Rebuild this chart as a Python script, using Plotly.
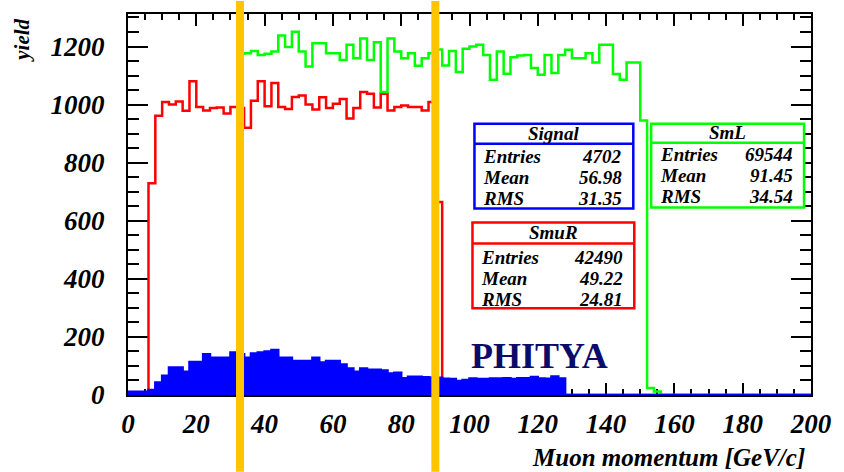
import plotly.graph_objects as go

# ---------------- data ----------------
BIN_WIDTH = 2
X_MIN, X_MAX = 0, 200
Y_MAX = 1312

red_start = 6
red_counts = [729, 962, 1009, 1000, 1011, 979, 1080, 992, 980, 988, 990, 969, 992,
              988, 920, 1013, 1080, 994, 1074, 992, 985, 1026, 1031, 1000, 983, 1025,
              988, 1003, 1019, 952, 988, 1043, 1037, 990, 1037, 980, 992, 997, 992,
              992, 980, 1009, 665]

green_start = 32
green_counts = [1175, 1177, 1185, 1171, 1175, 1183, 1238, 1198, 1251, 1183, 1131, 1211,
                1211, 1177, 1177, 1154, 1206, 1160, 1228, 1154, 1215, 1043, 1228, 1183,
                1160, 1177, 1134, 1160, 1177, 1190, 1135, 1185, 1112, 1192, 1200, 1206,
                1171, 1086, 1183, 1106, 1163, 1169, 1171, 1126, 1103, 1171, 1109, 1171,
                1189, 1160, 1160, 1177, 1145, 1206, 1206, 1105, 1086, 1145, 1145, 945,
                24, 12]

blue_start = 0
blue_counts = [11, 11, 11, 17, 43, 66, 95, 95, 80, 114, 114, 140, 128, 128, 128, 146,
               140, 128, 143, 146, 150, 155, 128, 128, 117, 117, 117, 128, 112, 117,
               117, 105, 91, 80, 91, 87, 87, 84, 74, 77, 58, 63, 63, 61, 60, 59, 56,
               55, 48, 52, 57, 55, 55, 57, 57, 58, 55, 58, 58, 62, 57, 56, 64, 57]

x_ticks = list(range(0, 201, 20))
y_ticks = list(range(0, 1201, 200))

stat_labels = ["Entries", "Mean", "RMS"]
signal_stats = ["4702", "56.98", "31.35"]
smur_stats = ["42490", "49.22", "24.81"]
sml_stats = ["69544", "91.45", "34.54"]

cut_positions = [32.8, 90.0]

# ---------------- layout helpers ----------------
W, H = 844, 472
ML, MR, MT, MB = 128, 28, 13, 77
PW = W - ML - MR
PH = H - MT - MB
FONT = "Liberation Serif, Times New Roman, serif"


def fx(px):
    return (px - ML) / PW


def fy(py):
    return (H - MB - py) / PH


nbins = (X_MAX - X_MIN) // BIN_WIDTH
edges = [X_MIN + i * BIN_WIDTH for i in range(nbins + 1)]


def full(start, counts):
    arr = [0] * nbins
    i0 = (start - X_MIN) // BIN_WIDTH
    for i, c in enumerate(counts):
        arr[i0 + i] = c
    return arr + [arr[-1]]


fig = go.Figure()
fig.add_trace(go.Scatter(x=edges, y=full(red_start, red_counts), mode="lines",
                         line=dict(color="#FF0000", width=2.5, shape="hv"),
                         name="SmuR", showlegend=False, hoverinfo="skip"))
fig.add_trace(go.Scatter(x=edges, y=full(green_start, green_counts), mode="lines",
                         line=dict(color="#00FF00", width=2.5, shape="hv"),
                         name="SmL", showlegend=False, hoverinfo="skip"))
fig.add_trace(go.Scatter(x=edges, y=full(blue_start, blue_counts), mode="lines",
                         line=dict(color="#0000FF", width=2.5, shape="hv"),
                         fill="tozeroy", fillcolor="#0000FF",
                         name="Signal", showlegend=False, hoverinfo="skip"))

tickfont = dict(family=FONT, size=27, color="black", weight="bold", style="italic")

fig.update_xaxes(range=[X_MIN, X_MAX], tickmode="array", tickvals=x_ticks,
                 ticktext=[str(v) for v in x_ticks],
                 ticks="inside", ticklen=12, tickwidth=2, tickcolor="black",
                 mirror="allticks", showline=True, linewidth=2, linecolor="black",
                 showgrid=False, zeroline=False, tickfont=tickfont,
                 ticklabelstandoff=4, layer="below traces",
                 minor=dict(dtick=5, tick0=0, ticks="inside", ticklen=6,
                            tickwidth=1.5, tickcolor="black", showgrid=False))
fig.update_yaxes(range=[0, Y_MAX], tickmode="array", tickvals=y_ticks,
                 ticktext=[str(v) for v in y_ticks],
                 ticks="inside", ticklen=20, tickwidth=2, tickcolor="black",
                 mirror="allticks", showline=True, linewidth=2, linecolor="black",
                 showgrid=False, zeroline=False, tickfont=tickfont,
                 ticklabelstandoff=16, layer="below traces",
                 minor=dict(dtick=50, tick0=0, ticks="inside", ticklen=11,
                            tickwidth=1.5, tickcolor="black", showgrid=False))

shapes = []
annotations = []


def stat_box(x0, x1, y0, y1, ydiv, color, title, values, rows_y, title_y):
    shapes.append(dict(type="rect", xref="paper", yref="paper",
                       x0=fx(x0), x1=fx(x1), y0=fy(y1), y1=fy(y0),
                       line=dict(color=color, width=2.5), fillcolor="white",
                       layer="above"))
    shapes.append(dict(type="line", xref="paper", yref="paper",
                       x0=fx(x0), x1=fx(x1), y0=fy(ydiv), y1=fy(ydiv),
                       line=dict(color=color, width=2.5), layer="above"))
    f = dict(family=FONT, size=19, color="black", weight="bold", style="italic")
    annotations.append(dict(text=title, xref="paper", yref="paper",
                            x=fx((x0 + x1) / 2), y=fy(title_y), xanchor="center",
                            yanchor="middle", showarrow=False, font=f))
    for lab, val, ry in zip(stat_labels, values, rows_y):
        annotations.append(dict(text=lab, xref="paper", yref="paper", x=fx(x0 + 7),
                                y=fy(ry), xanchor="left", yanchor="middle",
                                showarrow=False, font=f))
        annotations.append(dict(text=val, xref="paper", yref="paper", x=fx(x1 - 9),
                                y=fy(ry), xanchor="right", yanchor="middle",
                                showarrow=False, font=f))


stat_box(477, 637, 123, 208, 143, "#0000FF", "Signal", signal_stats,
         [156, 177, 198], 133)
stat_box(475, 638, 222, 308, 243, "#FF0000", "SmuR", smur_stats,
         [257, 278, 299], 232)
stat_box(655, 809, 123, 207, 142, "#00FF00", "SmL", sml_stats,
         [154, 175, 196], 132)

# cut lines (yellow)
for c in cut_positions:
    xp = (c - X_MIN) / (X_MAX - X_MIN)
    shapes.append(dict(type="line", xref="paper", yref="paper", x0=xp, x1=xp,
                       y0=fy(H), y1=fy(0), line=dict(color="#FFC400", width=8),
                       layer="above"))

annotations.append(dict(text="PHITYA", xref="paper", yref="paper", x=fx(471),
                        y=fy(356), xanchor="left", yanchor="middle", showarrow=False,
                        font=dict(family=FONT, size=36, color="#0B0B6B", weight="bold")))
annotations.append(dict(text="Muon momentum [GeV/c]", xref="paper", yref="paper",
                        x=fx(812), y=fy(458), xanchor="right", yanchor="middle",
                        showarrow=False,
                        font=dict(family=FONT, size=25, color="black", weight="bold",
                                  style="italic")))
annotations.append(dict(text="yield", xref="paper", yref="paper", x=fx(21),
                        y=fy(40), xanchor="center", yanchor="middle", textangle=-90,
                        showarrow=False,
                        font=dict(family=FONT, size=21, color="black", weight="bold",
                                  style="italic")))

fig.update_layout(width=W, height=H, margin=dict(l=ML, r=MR, t=MT, b=MB),
                  plot_bgcolor="white", paper_bgcolor="white",
                  shapes=shapes, annotations=annotations, showlegend=False)

fig.write_html("out.html")
